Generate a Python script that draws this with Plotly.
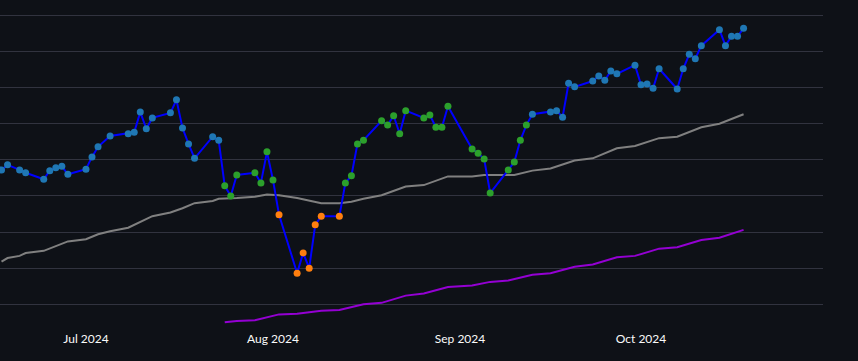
import plotly.graph_objects as go

# ---- main series (daily closes) ----
dates = [
    "2024-06-17", "2024-06-18", "2024-06-20", "2024-06-21",
    "2024-06-24", "2024-06-25", "2024-06-26", "2024-06-27", "2024-06-28",
    "2024-07-01", "2024-07-02", "2024-07-03", "2024-07-05",
    "2024-07-08", "2024-07-09", "2024-07-10", "2024-07-11", "2024-07-12",
    "2024-07-15", "2024-07-16", "2024-07-17", "2024-07-18", "2024-07-19",
    "2024-07-22", "2024-07-23", "2024-07-24", "2024-07-25", "2024-07-26",
    "2024-07-29", "2024-07-30", "2024-07-31", "2024-08-01", "2024-08-02",
    "2024-08-05", "2024-08-06", "2024-08-07", "2024-08-08", "2024-08-09",
    "2024-08-12", "2024-08-13", "2024-08-14", "2024-08-15", "2024-08-16",
    "2024-08-19", "2024-08-20", "2024-08-21", "2024-08-22", "2024-08-23",
    "2024-08-26", "2024-08-27", "2024-08-28", "2024-08-29", "2024-08-30",
    "2024-09-03", "2024-09-04", "2024-09-05", "2024-09-06",
    "2024-09-09", "2024-09-10", "2024-09-11", "2024-09-12", "2024-09-13",
    "2024-09-16", "2024-09-17", "2024-09-18", "2024-09-19", "2024-09-20",
    "2024-09-23", "2024-09-24", "2024-09-25", "2024-09-26", "2024-09-27",
    "2024-09-30", "2024-10-01", "2024-10-02", "2024-10-03", "2024-10-04",
    "2024-10-07", "2024-10-08", "2024-10-09", "2024-10-10", "2024-10-11",
    "2024-10-14", "2024-10-15", "2024-10-16", "2024-10-17", "2024-10-18",
]
values = [
    118.6, 119.3, 118.6, 118.2,
    117.3, 118.5, 118.9, 119.1, 118.0,
    118.7, 120.4, 121.8, 123.3,
    123.6, 123.8, 126.6, 124.3, 125.8,
    126.5, 128.3, 124.4, 122.2, 120.2,
    123.2, 122.7, 116.4, 115.0, 117.9,
    118.2, 116.8, 121.1, 117.2, 112.4,
    104.3, 107.1, 105.0, 111.0, 112.2,
    112.2, 116.8, 117.8, 122.2, 122.7,
    125.4, 124.8, 126.1, 123.6, 126.8,
    125.8, 126.2, 124.5, 124.5, 127.4,
    121.5, 120.9, 120.1, 115.4,
    118.6, 119.7, 122.7, 124.8, 126.3,
    126.6, 126.8, 125.9, 130.6, 130.1,
    130.9, 131.6, 131.0, 132.3, 131.9,
    133.1, 130.4, 130.5, 129.9, 132.6,
    129.8, 132.6, 134.6, 134.0, 135.8,
    138.0, 135.8, 137.1, 137.1, 138.2,
]
# regime per point: "normal", "mid", "low"
regimes = (["normal"] * 25 + ["mid"] * 7 + ["low"] * 7 + ["mid"] * 22 + ["normal"] * 26)

# ---- gray reference line ----
gray_dates = [
    "2024-06-17", "2024-06-18", "2024-06-20", "2024-06-21", "2024-06-24",
    "2024-06-28", "2024-07-01", "2024-07-03", "2024-07-05", "2024-07-08",
    "2024-07-12", "2024-07-15", "2024-07-17", "2024-07-19", "2024-07-22",
    "2024-07-23", "2024-07-26", "2024-07-29", "2024-07-31", "2024-08-01",
    "2024-08-02", "2024-08-05", "2024-08-08", "2024-08-09", "2024-08-12",
    "2024-08-13", "2024-08-14", "2024-08-16", "2024-08-19", "2024-08-23",
    "2024-08-26", "2024-08-30", "2024-09-03", "2024-09-05", "2024-09-06",
    "2024-09-10", "2024-09-13", "2024-09-16", "2024-09-20", "2024-09-23",
    "2024-09-27", "2024-09-30", "2024-10-04", "2024-10-07", "2024-10-11",
    "2024-10-14", "2024-10-18",
]
gray_values = [
    105.9, 106.4, 106.7, 107.1, 107.4,
    108.7, 109.0, 109.7, 110.1, 110.6,
    112.2, 112.7, 113.3, 114.0, 114.3,
    114.6, 114.7, 114.9, 115.2, 115.2,
    115.1, 114.7, 114.1, 114.0, 114.0,
    114.1, 114.2, 114.6, 115.1, 116.3,
    116.5, 117.7, 117.7, 117.9, 117.9,
    117.9, 118.5, 118.8, 119.9, 120.2,
    121.6, 121.9, 123.0, 123.2, 124.5,
    125.0, 126.3,
]

# ---- purple reference line ----
purple_dates = [
    "2024-07-24", "2024-07-26", "2024-07-29", "2024-08-02", "2024-08-05",
    "2024-08-09", "2024-08-12", "2024-08-16", "2024-08-19", "2024-08-23",
    "2024-08-26", "2024-08-30", "2024-09-03", "2024-09-06", "2024-09-09",
    "2024-09-13", "2024-09-16", "2024-09-20", "2024-09-23", "2024-09-27",
    "2024-09-30", "2024-10-04", "2024-10-07", "2024-10-11", "2024-10-14",
    "2024-10-18",
]
purple_values = [
    97.5, 97.7, 97.8, 98.6, 98.7,
    99.1, 99.2, 100.0, 100.2, 101.2,
    101.5, 102.4, 102.6, 103.1, 103.3,
    104.1, 104.3, 105.2, 105.5, 106.5,
    106.7, 107.7, 107.9, 108.9, 109.2,
    110.3,
]

regime_colors = {"normal": "#1f77b4", "mid": "#2ca02c", "low": "#ff7f0e"}
marker_colors = [regime_colors[r] for r in regimes]

fig = go.Figure()
fig.add_trace(go.Scatter(x=gray_dates, y=gray_values, mode="lines",
                         line=dict(color="#808080", width=2), hoverinfo="skip"))
fig.add_trace(go.Scatter(x=purple_dates, y=purple_values, mode="lines",
                         line=dict(color="#9400d3", width=2), hoverinfo="skip"))
fig.add_trace(go.Scatter(x=dates, y=values, mode="lines",
                         line=dict(color="#0000ff", width=2)))
fig.add_trace(go.Scatter(x=dates, y=values, mode="markers",
                         marker=dict(color=marker_colors, size=7, line=dict(width=0))))

fig.update_layout(
    width=858, height=361,
    margin=dict(l=0, r=35, t=0, b=31),
    paper_bgcolor="#0e1117", plot_bgcolor="#0e1117",
    showlegend=False,
    font=dict(family="Source Sans Pro, Lato, sans-serif", size=12, color="#fafafa"),
)
fig.update_xaxes(
    range=["2024-06-16 18:00", "2024-10-31 04:00"],
    showgrid=False, zeroline=False, showline=False,
    tickformat="%b %Y", dtick="M1", tick0="2024-07-01",
    ticks="", tickfont=dict(color="#fafafa", size=12),
)
fig.update_yaxes(
    range=[96.44, 142.12], dtick=5, tick0=100,
    showgrid=True, gridcolor="#31333f", gridwidth=1,
    zeroline=False, showticklabels=False, ticks="",
)

fig.write_html(
    "out.html",
    config={"displayModeBar": False},
    post_script="document.body.style.margin='0';document.body.style.background='#0e1117';",
)
